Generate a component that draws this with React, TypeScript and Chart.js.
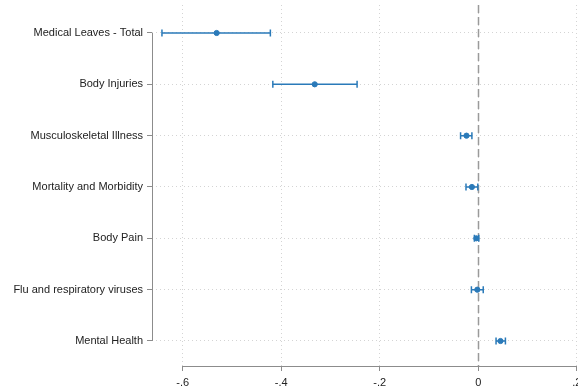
import React, { useEffect, useRef } from "react";
import { Chart, registerables } from "chart.js";

Chart.register(...registerables);

const CATEGORIES = [
  "Medical Leaves - Total",
  "Body Injuries",
  "Musculoskeletal Illness",
  "Mortality and Morbidity",
  "Body Pain",
  "Flu and respiratory viruses",
  "Mental Health",
];
const ESTIMATES = [-0.531, -0.332, -0.024, -0.013, -0.004, -0.002, 0.045];
const CI_LOW = [-0.642, -0.417, -0.036, -0.025, -0.008, -0.014, 0.036];
const CI_HIGH = [-0.422, -0.246, -0.013, -0.001, 0.001, 0.01, 0.055];
const X_TICKS = [-0.6, -0.4, -0.2, 0, 0.2];

const BLUE = "#2a7ab9";
const AXIS_GRAY = "#8c8c8c";

const fmt = (v: number) => {
  if (Math.abs(v) < 1e-9) return "0";
  const s = v.toFixed(1);
  return s.replace(/^(-?)0\./, "$1.");
};

const overlayPlugin = {
  id: "overlay",
  beforeDatasetsDraw(chart: any) {
    const { ctx, chartArea, scales } = chart;
    const xs = scales.x;
    const ys = scales.y;
    ctx.save();
    // zero reference line
    const x0 = Math.round(xs.getPixelForValue(0)) + 0.5;
    ctx.strokeStyle = "#9a9a9a";
    ctx.lineWidth = 1.5;
    ctx.setLineDash([8, 4]);
    ctx.beginPath();
    ctx.moveTo(x0, chartArea.top);
    ctx.lineTo(x0, chartArea.bottom);
    ctx.stroke();
    ctx.setLineDash([]);

    // custom axis lines
    ctx.strokeStyle = AXIS_GRAY;
    ctx.lineWidth = 1;
    const yTop = ys.getPixelForValue(0);
    const yBot = ys.getPixelForValue(CATEGORIES.length - 1);
    const ax = Math.round(chartArea.left) + 0.5;
    ctx.beginPath();
    ctx.moveTo(ax, yTop);
    ctx.lineTo(ax, yBot);
    ctx.stroke();
    const xl = xs.getPixelForValue(X_TICKS[0]);
    const xr = xs.getPixelForValue(X_TICKS[X_TICKS.length - 1]);
    const ay = Math.round(chartArea.bottom) + 0.5;
    ctx.beginPath();
    ctx.moveTo(xl, ay);
    ctx.lineTo(xr, ay);
    ctx.stroke();

    // error bars
    ctx.strokeStyle = BLUE;
    ctx.lineWidth = 1.5;
    for (let i = 0; i < CATEGORIES.length; i++) {
      const y = ys.getPixelForValue(i);
      const a = xs.getPixelForValue(CI_LOW[i]);
      const b = xs.getPixelForValue(CI_HIGH[i]);
      ctx.beginPath();
      ctx.moveTo(a, y);
      ctx.lineTo(b, y);
      ctx.moveTo(a, y - 3.5);
      ctx.lineTo(a, y + 3.5);
      ctx.moveTo(b, y - 3.5);
      ctx.lineTo(b, y + 3.5);
      ctx.stroke();
    }
    ctx.restore();
  },
};

export default function App() {
  const ref = useRef<HTMLCanvasElement | null>(null);
  useEffect(() => {
    document.body.style.margin = "0";
    const canvas = ref.current;
    if (!canvas) return;
    const chart = new Chart(canvas, {
      type: "scatter",
      data: {
        datasets: [
          {
            data: ESTIMATES.map((v, i) => ({ x: v, y: i })),
            backgroundColor: BLUE,
            borderColor: BLUE,
            pointRadius: 2.6,
            pointHoverRadius: 2.6,
          },
        ],
      },
      options: {
        responsive: false,
        animation: false,
        devicePixelRatio: 1,
        layout: { padding: { top: 5, right: 0, left: 0, bottom: 0 } },
        plugins: { legend: { display: false }, tooltip: { enabled: false } },
        scales: {
          x: {
            type: "linear",
            min: -0.6622,
            max: 0.195,
            afterBuildTicks: (s: any) => {
              s.ticks = X_TICKS.map((v) => ({ value: v }));
            },
            afterFit: (s: any) => {
              s.height = 26;
              s.paddingLeft = 0;
              s.paddingRight = 0;
            },
            ticks: {
              callback: (v: any) => fmt(Number(v)),
              color: "#222",
              font: { family: "'Liberation Sans', Arial, sans-serif", size: 11 },
              padding: 5,
              maxRotation: 0,
            },
            grid: {
              color: "#d4d4d4",
              lineWidth: 1,
              tickLength: 5,
              tickColor: AXIS_GRAY,
              tickBorderDash: [],
            },
            border: { display: false, dash: [1, 3] },
          },
          y: {
            type: "linear",
            reverse: true,
            min: -0.545,
            max: 6.487,
            afterBuildTicks: (s: any) => {
              s.ticks = CATEGORIES.map((_, i) => ({ value: i }));
            },
            afterFit: (s: any) => {
              s.width = 152;
              s.paddingTop = 0;
              s.paddingBottom = 0;
            },
            ticks: {
              callback: (v: any) => CATEGORIES[Number(v)] ?? "",
              color: "#222",
              font: { family: "'Liberation Sans', Arial, sans-serif", size: 11 },
              padding: 4,
            },
            grid: {
              color: "#d4d4d4",
              lineWidth: 1,
              tickLength: 5,
              tickColor: AXIS_GRAY,
              tickBorderDash: [],
            },
            border: { display: false, dash: [1, 3] },
          },
        },
      },
      plugins: [overlayPlugin],
    } as any);
    return () => chart.destroy();
  }, []);
  return (
    <div style={{ width: 578, height: 392, background: "#fff" }}>
      <canvas ref={ref} width={578} height={392} />
    </div>
  );
}
